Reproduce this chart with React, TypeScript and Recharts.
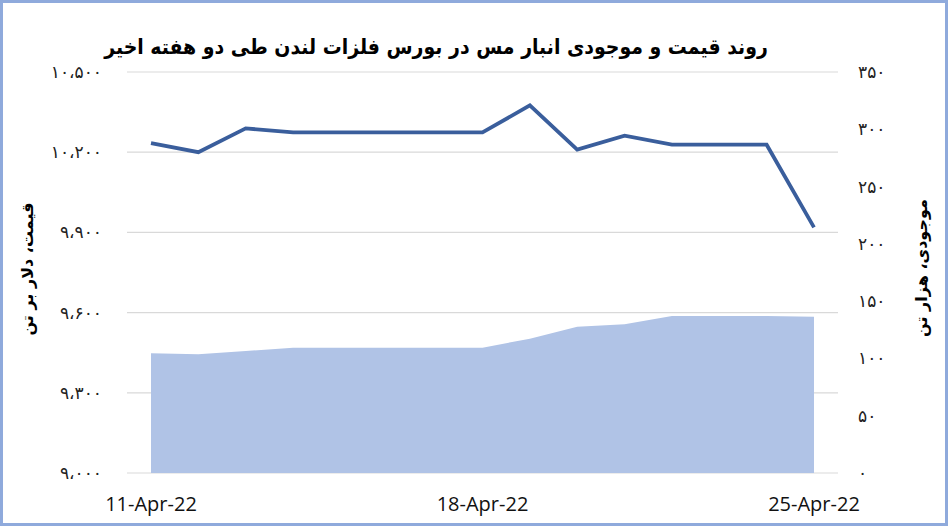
import React from "react";
import { ComposedChart, Line, Area, XAxis, YAxis, CartesianGrid } from "recharts";

const dates = [
  "11-Apr-22", "12-Apr-22", "13-Apr-22", "14-Apr-22", "15-Apr-22",
  "16-Apr-22", "17-Apr-22", "18-Apr-22", "19-Apr-22", "20-Apr-22",
  "21-Apr-22", "22-Apr-22", "23-Apr-22", "24-Apr-22", "25-Apr-22",
];
const price = [10234, 10200, 10289, 10274, 10274, 10274, 10274, 10274, 10375, 10210, 10262, 10228, 10228, 10228, 9919];
const stock = [104.5, 103.6, 106.5, 109.4, 109.4, 109.4, 109.4, 109.4, 117.2, 127.7, 129.8, 137, 137, 137, 136.4];
const priceTicks = [9000, 9300, 9600, 9900, 10200, 10500];
const stockTicks = [0, 50, 100, 150, 200, 250, 300, 350];

const title = "روند قیمت و موجودی انبار مس در بورس فلزات لندن طی دو هفته اخیر";
const leftTitle = "قیمت، دلار بر تن";
const rightTitle = "موجودی، هزار تن";

const data = dates.map((d, i) => ({ date: d, price: price[i], stock: stock[i] }));

const faDigits = "۰۱۲۳۴۵۶۷۸۹";
const toFa = (n: number) => {
  const s = Math.round(n).toString().replace(/\B(?=(\d{3})+(?!\d))/g, "،");
  return s.replace(/\d/g, (c) => faDigits[Number(c)]);
};

const PER_FONT = "'DejaVu Sans', sans-serif";
const PER_COND = "'DejaVu Sans Condensed', 'DejaVu Sans', sans-serif";

const LeftTick = (props: any) => {
  const { x, y, payload } = props;
  return (
    <text x={x} y={y} dy={6} textAnchor="end" fontFamily={PER_FONT} fontSize={17} fill="#222">
      {toFa(payload.value)}
    </text>
  );
};

const RightTick = (props: any) => {
  const { x, y, payload } = props;
  return (
    <text x={x} y={y} dy={6} textAnchor="start" fontFamily={PER_FONT} fontSize={17} fill="#222">
      {toFa(payload.value)}
    </text>
  );
};

const XTick = (props: any) => {
  const { x, y, payload } = props;
  return (
    <text x={x} y={y} dy={14} textAnchor="middle" fontFamily="'Open Sans', sans-serif" fontSize={20} fill="#111">
      {payload.value}
    </text>
  );
};

export default function App() {
  return (
    <div
      style={{
        position: "absolute",
        left: 0,
        top: 0,
        width: 948,
        height: 526,
        boxSizing: "border-box",
        border: "3px solid #8FAADC",
        background: "#fff",
        overflow: "hidden",
      }}
    >
      <div style={{ position: "absolute", left: -3, top: -3 }}>
        <ComposedChart width={948} height={526} data={data} margin={{ top: 72, right: 0, bottom: 0, left: 0 }}>
          <CartesianGrid yAxisId="left" vertical={false} stroke="#D9D9D9" strokeWidth={1.2} />
          <XAxis
            dataKey="date"
            interval={6}
            axisLine={false}
            tickLine={false}
            height={53}
            padding={{ left: 24, right: 24 }}
            tick={<XTick />}
            tickSize={0}
            tickMargin={24}
          />
          <YAxis
            yAxisId="left"
            orientation="left"
            width={127}
            domain={[9000, 10500]}
            ticks={priceTicks}
            axisLine={false}
            tickLine={false}
            tickSize={0}
            tickMargin={25}
            tick={<LeftTick />}
          />
          <YAxis
            yAxisId="right"
            orientation="right"
            width={110}
            domain={[0, 350]}
            ticks={stockTicks}
            axisLine={false}
            tickLine={false}
            tickSize={0}
            tickMargin={20}
            tick={<RightTick />}
          />
          <Area
            yAxisId="right"
            type="linear"
            dataKey="stock"
            stroke="none"
            fill="#B0C3E6"
            fillOpacity={1}
            isAnimationActive={false}
          />
          <Line
            yAxisId="left"
            type="linear"
            dataKey="price"
            stroke="#3A5E9C"
            strokeWidth={3.8}
            dot={false}
            activeDot={false}
            isAnimationActive={false}
          />
          <text
            x={436}
            y={54}
            textAnchor="middle"
            direction="rtl"
            fontFamily={PER_COND}
            fontWeight="bold"
            fontSize={21}
            fill="#000"
          >
            {title}
          </text>
          <text
            transform="translate(27,269) rotate(-90)"
            textAnchor="middle"
            dominantBaseline="central"
            direction="rtl"
            fontFamily={PER_FONT}
            fontWeight="bold"
            fontSize={16}
            fill="#000"
          >
            {leftTitle}
          </text>
          <text
            transform="translate(921,268) rotate(-90)"
            textAnchor="middle"
            dominantBaseline="central"
            direction="rtl"
            fontFamily={PER_FONT}
            fontWeight="bold"
            fontSize={16}
            fill="#000"
          >
            {rightTitle}
          </text>
        </ComposedChart>
      </div>
    </div>
  );
}
